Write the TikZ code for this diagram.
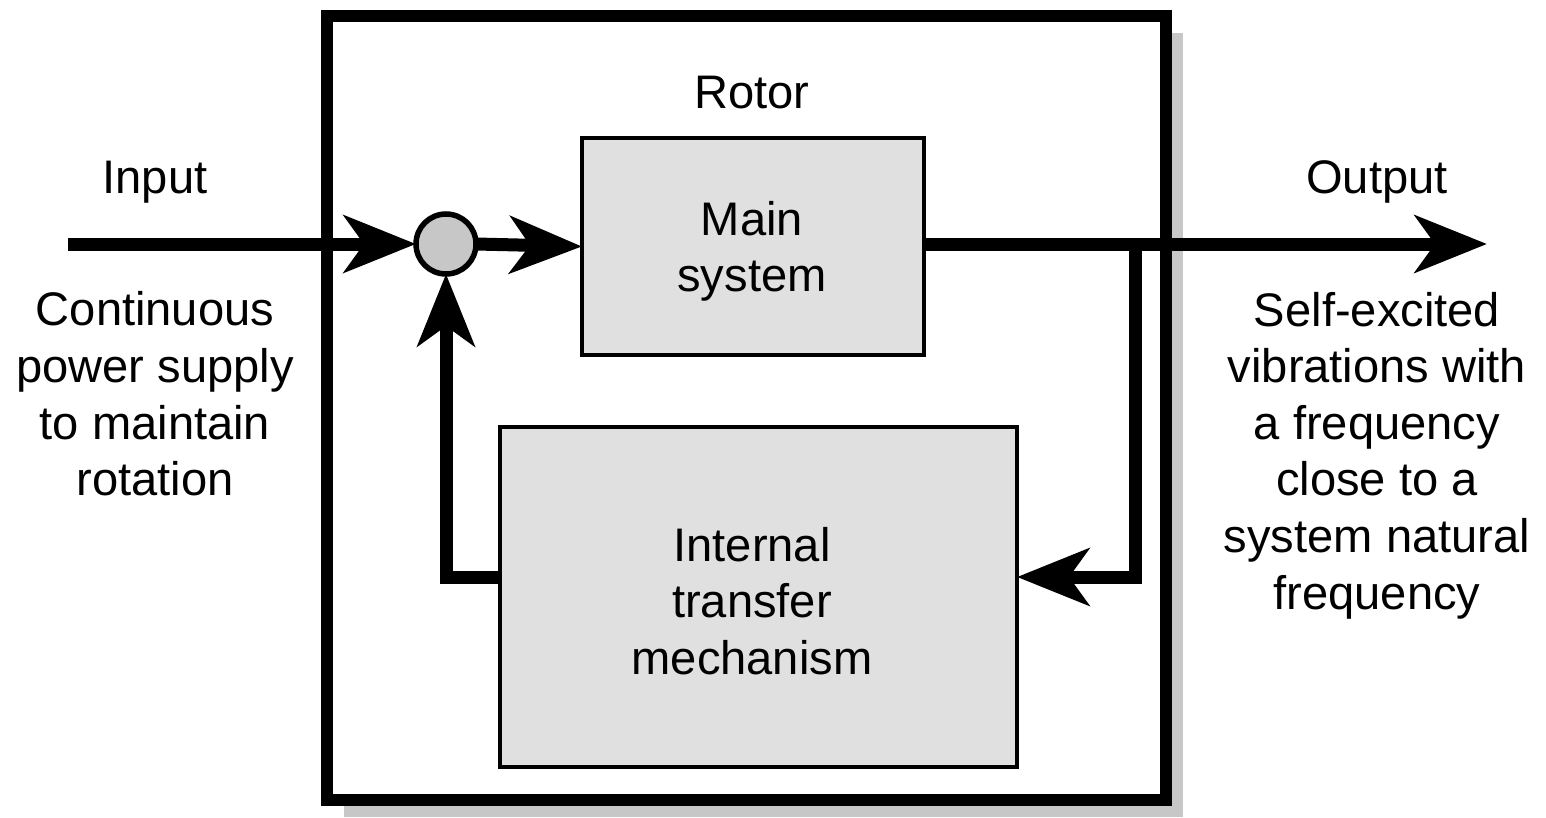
\documentclass[tikz,border=0pt]{standalone}
\usepackage{fontspec}
\setmainfont{Liberation Sans}
\usetikzlibrary{arrows.meta,shadows}

\begin{document}
\begin{tikzpicture}[
  every node/.style={font=\fontsize{26.8}{32.2}\selectfont, inner sep=0pt, outer sep=0pt},
  casing/.style={draw, line width=0.23cm, fill=white,
    drop shadow={shadow xshift=0.34cm, shadow yshift=-0.34cm, fill=black!22, opacity=1}},
  block/.style={draw, line width=0.08cm, fill=black!12},
  sumpoint/.style={circle, draw, line width=0.11cm, fill=black!22, minimum size=1.2cm},
  flow/.style={line width=0.26cm, -{Stealth[length=1.44cm,width=1.14cm,inset=0.4cm]}},
  note/.style={align=center}
]
\useasboundingbox (0,0) rectangle (30.92,-16.34);

\node (rotor) [casing, minimum width=16.78cm, minimum height=15.68cm] at (14.93,-8.16) {};
\node (rotorname) [anchor=base] at (15.04,-2.18) {Rotor};

\node (main) [block, minimum width=6.84cm, minimum height=4.34cm] at (15.06,-4.93) {};
\node (maintext) [note] at (15.04,-5.03) {Main\\system};
\node (mech) [block, minimum width=10.34cm, minimum height=6.8cm] at (15.17,-11.94) {};
\node (mechtext) [note] at (15.04,-12.02) {Internal\\transfer\\mechanism};
\node (sum) [sumpoint] at (8.92,-4.88) {};

\node (input) [anchor=base] at (3.1,-3.86) {Input};
\node (inputnote) [note] at (3.1,-7.88) {Continuous\\power supply\\to maintain\\rotation};
\node (output) [anchor=base] at (27.54,-3.86) {Output};
\node (outputnote) [note] at (27.54,-9.11) {Self-excited\\vibrations with\\a frequency\\close to a\\system natural\\frequency};

\coordinate (source) at (1.36,-4.88);
\coordinate (sink) at (29.74,-4.88);
\coordinate (tap) at (22.7,-4.88);
\coordinate (back) at (22.7,-11.54);

\draw[flow] (source) -- (sum.west);
\draw[flow] (sum.east) -- (main.west);
\draw[flow] (main.east |- tap) -- (sink);
\draw[flow] (tap) -- (back) -- (mech.east |- back);
\draw[flow] (mech.west |- back) -| (sum.south);

\end{tikzpicture}
\end{document}
